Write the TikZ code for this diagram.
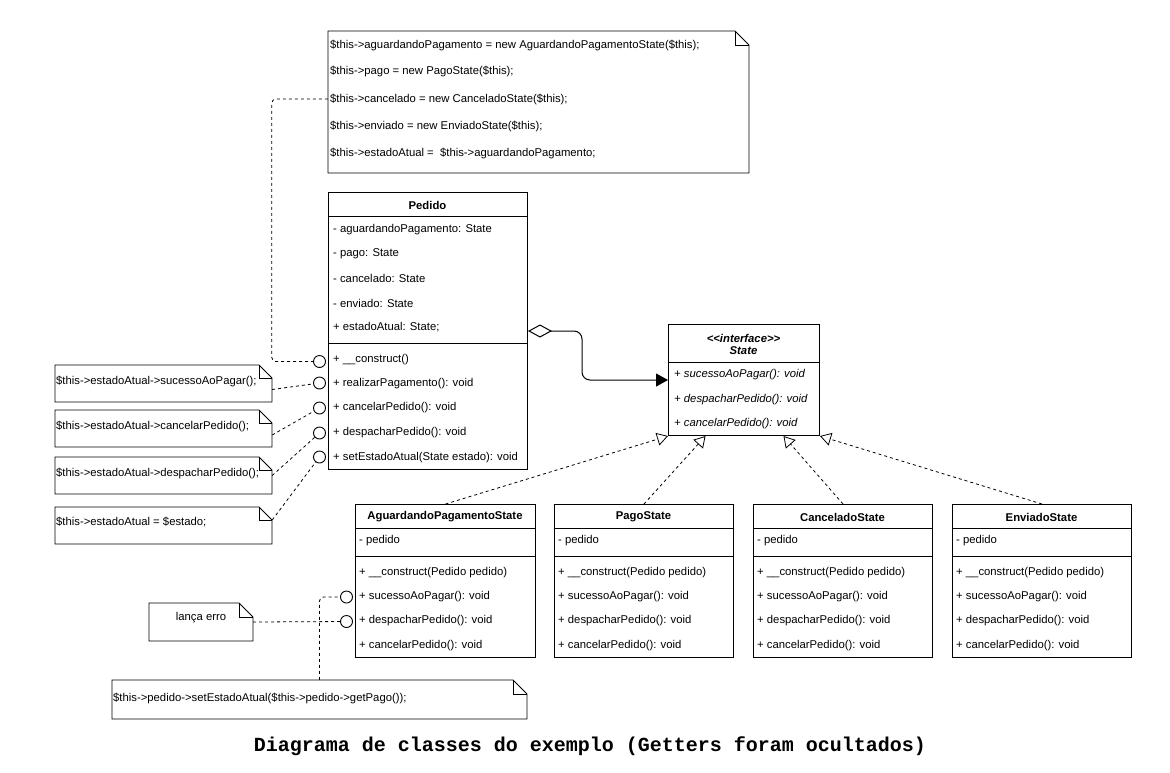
\documentclass[tikz,border=0pt]{standalone}
\usepackage{fontspec}
\setmainfont{Liberation Sans}
\newfontfamily\captionfont{Liberation Mono}
\usetikzlibrary{arrows.meta,fit,calc}

% UML note with a folded top-right corner: name, x1, y1, x2, y2, fold size
\newcommand\umlnote[6]{%
  \coordinate (#1-nw) at (#2,#3);
  \coordinate (#1-se) at (#4,#5);
  \draw[notebody] (#2,#3) -- (#4-#6,#3) -- (#4,#3+#6) -- (#4,#5) -- (#2,#5) -- cycle;
  \draw[notebody, fill=none] (#4-#6,#3) -- (#4-#6,#3+#6) -- (#4,#3+#6);
  \node[fit=(#1-nw)(#1-se), inner sep=0pt] (#1) {};
}

\begin{document}
\begin{tikzpicture}[x=1pt, y=-1pt,
  every node/.style={font=\fontsize{11.3}{13}\selectfont, inner sep=0pt},
  box/.style={draw, line width=1pt, anchor=north west, fill=white},
  row/.style={anchor=west},
  head/.style={font=\fontsize{11.3}{13}\selectfont\bfseries},
  ihead/.style={font=\fontsize{11.3}{13}\selectfont\bfseries\itshape},
  irow/.style={anchor=west, font=\fontsize{11.3}{13}\selectfont\itshape},
  divider/.style={line width=1pt},
  notebody/.style={draw, line width=0.9pt, fill=white},
  lolli/.style={circle, draw, line width=0.9pt, fill=white, minimum size=12pt},
  dep/.style={line width=0.8pt, dash pattern=on 3pt off 3pt},
  realize/.style={dep, -{Triangle[open, length=11pt, width=13pt]}},
  assoc/.style={line width=1pt, rounded corners=8pt,
    {Diamond[open, length=24pt, width=13pt]}-{Triangle[length=12pt, width=13pt]}}
]
\fill[white] (0,0) rectangle (1170,772);
\useasboundingbox (0,0) rectangle (1170,772);

% ---------------- constructor note ----------------
\umlnote{initNote}{328}{31}{749}{173}{14}
\node[row] (i1) at (330,45)  {\$this->aguardandoPagamento = new AguardandoPagamentoState(\$this);};
\node[row] (i2) at (330,71)  {\$this->pago = new PagoState(\$this);};
\node[row] (i3) at (330,99)  {\$this->cancelado = new CanceladoState(\$this);};
\node[row] (i4) at (330,126) {\$this->enviado = new EnviadoState(\$this);};
\node[row] (i5) at (330,153) {\$this->estadoAtual =\ \ \$this->aguardandoPagamento;};

% ---------------- Pedido ----------------
\node[box, minimum width=199pt, minimum height=277pt] (pedido) at (328,192) {};
\node[head] (pT) at (427.5,205) {Pedido};
\draw[divider] (328,216) -- (527,216);
\node[row] (pa1) at (333,230) {- aguardandoPagamento: State};
\node[row] (pa2) at (333,254) {- pago: State};
\node[row] (pa3) at (333,278) {- cancelado: State};
\node[row] (pa4) at (333,303) {- enviado: State};
\node[row] (pa5) at (333,327) {+ estadoAtual: State;};
\draw[divider] (328,343) -- (527,343);
\node[row] (pm1) at (333,360) {+ \_\_construct()};
\node[row] (pm2) at (333,384) {+ realizarPagamento(): void};
\node[row] (pm3) at (333,408) {+ cancelarPedido(): void};
\node[row] (pm4) at (333,433) {+ despacharPedido(): void};
\node[row] (pm5) at (333,458) {+ setEstadoAtual(State estado): void};

% ---------------- State interface ----------------
\node[box, minimum width=151pt, minimum height=111pt] (state) at (668,324) {};
\node[ihead] (sT1) at (743.5,338) {\mbox{<}\mbox{<}interface\mbox{>}\mbox{>}};
\node[ihead] (sT2) at (743.5,351) {State};
\draw[divider] (668,362) -- (819,362);
\node[irow] (sm1) at (674,375) {+ sucessoAoPagar(): void};
\node[irow] (sm2) at (674,400) {+ despacharPedido(): void};
\node[irow] (sm3) at (674,424) {+ cancelarPedido(): void};

% ---------------- concrete states ----------------
\node[box, minimum width=180pt, minimum height=153pt] (ag) at (355,504) {};
\node[head] (agT) at (445,517) {AguardandoPagamentoState};
\draw[divider] (355,528) -- (535,528);
\node[row] (ag1) at (359,541) {- pedido};
\draw[divider] (355,556) -- (535,556);
\node[row] (ag2) at (359,573) {+ \_\_construct(Pedido pedido)};
\node[row] (ag3) at (359,597) {+ sucessoAoPagar(): void};
\node[row] (ag4) at (359,621) {+ despacharPedido(): void};
\node[row] (ag5) at (359,646) {+ cancelarPedido(): void};

\node[box, minimum width=179pt, minimum height=153pt] (pago) at (554,504) {};
\node[head] (pgT) at (643.5,517) {PagoState};
\draw[divider] (554,528) -- (733,528);
\node[row] (pg1) at (558,541) {- pedido};
\draw[divider] (554,556) -- (733,556);
\node[row] (pg2) at (558,573) {+ \_\_construct(Pedido pedido)};
\node[row] (pg3) at (558,597) {+ sucessoAoPagar(): void};
\node[row] (pg4) at (558,621) {+ despacharPedido(): void};
\node[row] (pg5) at (558,646) {+ cancelarPedido(): void};

\node[box, minimum width=179pt, minimum height=153pt] (canc) at (753,504) {};
\node[head] (cT) at (842.5,517) {CanceladoState};
\draw[divider] (753,528) -- (932,528);
\node[row] (c1) at (757,541) {- pedido};
\draw[divider] (753,556) -- (932,556);
\node[row] (c2) at (757,573) {+ \_\_construct(Pedido pedido)};
\node[row] (c3) at (757,597) {+ sucessoAoPagar(): void};
\node[row] (c4) at (757,621) {+ despacharPedido(): void};
\node[row] (c5) at (757,646) {+ cancelarPedido(): void};

\node[box, minimum width=179pt, minimum height=153pt] (env) at (952,504) {};
\node[head] (eT) at (1041.5,517) {EnviadoState};
\draw[divider] (952,528) -- (1131,528);
\node[row] (e1) at (956,541) {- pedido};
\draw[divider] (952,556) -- (1131,556);
\node[row] (e2) at (956,573) {+ \_\_construct(Pedido pedido)};
\node[row] (e3) at (956,597) {+ sucessoAoPagar(): void};
\node[row] (e4) at (956,621) {+ despacharPedido(): void};
\node[row] (e5) at (956,646) {+ cancelarPedido(): void};

% ---------------- method notes on the left ----------------
\umlnote{n1}{55}{365}{272}{402}{13}
\node[row] (n1t) at (56,381) {\$this->estadoAtual->sucessoAoPagar();};
\umlnote{n2}{55}{410}{272}{447}{13}
\node[row] (n2t) at (56,426) {\$this->estadoAtual->cancelarPedido();};
\umlnote{n3}{55}{457}{272}{494}{13}
\node[row] (n3t) at (56,473) {\$this->estadoAtual->despacharPedido();};
\umlnote{n4}{55}{507}{272}{544}{13}
\node[row] (n4t) at (56,522) {\$this->estadoAtual = \$estado;};

\umlnote{errNote}{149}{603}{253}{641}{14}
\node (errT) at (201,618) {lança erro};
\umlnote{payNote}{112}{680}{527}{719}{14}
\node[row] (payT) at (113,698) {\$this->pedido->setEstadoAtual(\$this->pedido->getPago());};

% ---------------- note connectors ----------------
\node[lolli] (k1) at (319.5,361.5) {};
\node[lolli] (k2) at (319.5,383) {};
\node[lolli] (k3) at (319.5,408) {};
\node[lolli] (k4) at (319.5,433) {};
\node[lolli] (k5) at (319.5,457) {};
\node[lolli] (k6) at (346.5,597) {};
\node[lolli] (k7) at (346.5,621.5) {};

\draw[dep, rounded corners=4pt] ([yshift=3pt]initNote.west) -- ++(-56,0) |- (k1);
\draw[dep] ([yshift=-6pt]n1.east) -- (k2);
\draw[dep] ([yshift=-6.5pt]n2.east) -- (k3);
\draw[dep] (n3.east) -- (k4);
\draw[dep] ([yshift=5.5pt]n4.east) -- (k5);
\draw[dep] (errNote.east) -- (k7);
\draw[dep, rounded corners=4pt] (payNote.north) |- (k6);

% ---------------- relations ----------------
\draw[assoc] (pedido.east) -- ++(54,0) |- (state.west);
\draw[realize] (ag.north) -- (state.south west);
\draw[realize] (pago.north) -- ([xshift=-38.5pt]state.south);
\draw[realize] (canc.north) -- ([xshift=39.5pt]state.south);
\draw[realize] (env.north) -- (state.south east);

% ---------------- caption ----------------
\node[font=\captionfont\bfseries\fontsize{20}{22}\selectfont] (caption) at (590,746)
  {Diagrama de classes do exemplo (Getters foram ocultados)};
\end{tikzpicture}
\end{document}
